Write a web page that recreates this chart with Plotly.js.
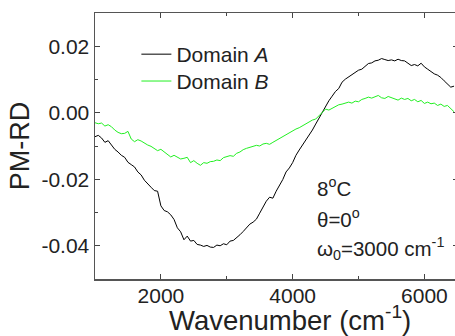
<!DOCTYPE html>
<html>
<head>
<meta charset="utf-8">
<script src="https://cdn.plot.ly/plotly-3.0.1.min.js"></script>
<style>html,body{margin:0;padding:0;background:#fff;overflow:hidden;}#chart{width:458px;height:336px;}</style>
</head>
<body>
<div id="chart"></div>
<script>
const wavenumber = [1000,1050,1100,1150,1200,1250,1300,1350,1400,1450,1500,1550,1600,1650,1700,1750,1800,1850,1900,1950,
2000,2050,2100,2150,2200,2250,2300,2350,2400,2450,2500,2550,2600,2650,2700,2750,2800,2850,2900,2950,
3000,3050,3100,3150,3200,3250,3300,3350,3400,3450,3500,3550,3600,3650,3700,3750,3800,3850,3900,3950,
4000,4050,4100,4150,4200,4250,4300,4350,4400,4450,4500,4550,4600,4650,4700,4750,4800,4850,4900,4950,
5000,5050,5100,5150,5200,5250,5300,5350,5400,5450,5500,5550,5600,5650,5700,5750,5800,5850,5900,5950,
6000,6050,6100,6150,6200,6250,6300,6350,6400,6450];

const domainA = [-0.0072,-0.0068,-0.0076,-0.0089,-0.0084,-0.0097,-0.0110,-0.0118,-0.0128,-0.0134,
-0.0149,-0.0156,-0.0163,-0.0178,-0.0187,-0.0203,-0.0212,-0.0224,-0.0234,-0.0236,
-0.0280,-0.0294,-0.0298,-0.0307,-0.0321,-0.0346,-0.0358,-0.0382,-0.0371,-0.0386,
-0.0384,-0.0396,-0.0398,-0.0402,-0.0399,-0.0404,-0.0405,-0.0398,-0.0400,-0.0394,
-0.0397,-0.0386,-0.0384,-0.0376,-0.0367,-0.0357,-0.0347,-0.0335,-0.0329,-0.0320,
-0.0302,-0.0284,-0.0266,-0.0254,-0.0257,-0.0236,-0.0218,-0.0201,-0.0178,-0.0166,
-0.0150,-0.0128,-0.0112,-0.0097,-0.0084,-0.0068,-0.0052,-0.0034,-0.0016,0.0004,
0.0022,0.0036,0.0050,0.0064,0.0073,0.0092,0.0101,0.0108,0.0113,0.0121,
0.0128,0.0131,0.0139,0.0148,0.0150,0.0156,0.0158,0.0163,0.0160,0.0157,
0.0159,0.0156,0.0161,0.0157,0.0156,0.0148,0.0142,0.0145,0.0141,0.0149,
0.0138,0.0131,0.0124,0.0117,0.0113,0.0106,0.0096,0.0085,0.0077,0.0080];

const domainB = [-0.0030,-0.0033,-0.0031,-0.0040,-0.0036,-0.0042,-0.0052,-0.0059,-0.0063,-0.0062,
-0.0056,-0.0079,-0.0087,-0.0081,-0.0085,-0.0092,-0.0097,-0.0101,-0.0107,-0.0114,
-0.0110,-0.0117,-0.0126,-0.0133,-0.0128,-0.0133,-0.0139,-0.0137,-0.0134,-0.0150,
-0.0144,-0.0152,-0.0158,-0.0150,-0.0152,-0.0147,-0.0146,-0.0142,-0.0144,-0.0135,
-0.0132,-0.0129,-0.0131,-0.0122,-0.0118,-0.0111,-0.0107,-0.0104,-0.0101,-0.0098,
-0.0100,-0.0094,-0.0092,-0.0095,-0.0089,-0.0083,-0.0079,-0.0073,-0.0067,-0.0060,
-0.0055,-0.0049,-0.0045,-0.0039,-0.0033,-0.0026,-0.0022,-0.0019,-0.0010,0.0001,
0.0011,0.0008,0.0014,0.0020,0.0024,0.0026,0.0030,0.0032,0.0029,0.0035,
0.0033,0.0040,0.0043,0.0047,0.0044,0.0048,0.0052,0.0045,0.0043,0.0049,
0.0046,0.0042,0.0038,0.0044,0.0040,0.0043,0.0036,0.0040,0.0033,0.0037,
0.0028,0.0032,0.0027,0.0029,0.0022,0.0026,0.0019,0.0022,0.0013,0.0003];

const seriesNames = ["Domain <i>A</i>", "Domain <i>B</i>"];
const xTickVals = [2000, 4000, 6000];
const xTickText = ["2000", "4000", "6000"];
const xMinorVals = [3000, 5000];
const yTickVals = [-0.04, -0.02, 0, 0.02];
const yTickText = ["-0.04", "-0.02", "0.00", "0.02"];
const yMinorVals = [-0.03, -0.01, 0.01];
const xTitle = "Wavenumber (cm<sup>-1</sup>)";
const yTitle = "PM-RD";
const notes = ["8<sup>o</sup>C", "θ=0<sup>o</sup>", "ω<sub>0</sub>=3000 cm<sup>-1</sup>"];

const FONT = "Liberation Sans, Arial, Helvetica, sans-serif";
const TXT = "#222";

const traces = [
  {x: wavenumber, y: domainA, name: seriesNames[0], type: "scatter", mode: "lines",
   legend: "legend", line: {color: "#000000", width: 1}},
  {x: wavenumber, y: domainB, name: seriesNames[1], type: "scatter", mode: "lines",
   legend: "legend2", line: {color: "#22f022", width: 1}}
];

const axisCommon = {
  showline: true, linecolor: "#555", linewidth: 1.5, mirror: "ticks",
  ticks: "inside", ticklen: 5, tickwidth: 1, tickcolor: "#444",
  showgrid: false, zeroline: false,
  tickfont: {family: FONT, size: 21, color: TXT}
};

const legendCommon = {xanchor: "left", yanchor: "top", bgcolor: "rgba(0,0,0,0)", borderwidth: 0,
  font: {family: FONT, size: 21, color: TXT}};

const layout = {
  width: 458, height: 336,
  margin: {l: 95, r: 0, t: 13, b: 57},
  paper_bgcolor: "#fff", plot_bgcolor: "#fff",
  font: {family: FONT, color: TXT},
  showlegend: true,
  legend: Object.assign({}, legendCommon, {x: 0.114, y: 0.921}),
  legend2: Object.assign({}, legendCommon, {x: 0.114, y: 0.820}),
  xaxis: Object.assign({}, axisCommon, {
    range: [1000, 6510], tickmode: "array", tickvals: xTickVals, ticktext: xTickText,
    ticklabelstandoff: -3,
    minor: {tickmode: "array", tickvals: xMinorVals, ticks: "inside", ticklen: 3, tickcolor: "#444"}
  }),
  yaxis: Object.assign({}, axisCommon, {
    range: [-0.05, 0.03], tickmode: "array", tickvals: yTickVals, ticktext: yTickText,
    minor: {tickmode: "array", tickvals: yMinorVals, ticks: "inside", ticklen: 3, tickcolor: "#444"},
    title: {text: yTitle, font: {family: FONT, size: 27, color: TXT}, standoff: 4}
  }),
  annotations: [
    {text: xTitle, xref: "paper", yref: "paper", x: 0.537, y: -0.148, xanchor: "center", yanchor: "middle", showarrow: false, font: {family: FONT, size: 27.5, color: TXT}},
    {text: notes[0], xref: "paper", yref: "paper", x: 0.607, y: 0.346, xanchor: "left", yanchor: "middle", showarrow: false, font: {family: FONT, size: 20.5, color: TXT}},
    {text: notes[1], xref: "paper", yref: "paper", x: 0.607, y: 0.229, xanchor: "left", yanchor: "middle", showarrow: false, font: {family: FONT, size: 20.5, color: TXT}},
    {text: notes[2], xref: "paper", yref: "paper", x: 0.607, y: 0.1165, xanchor: "left", yanchor: "middle", showarrow: false, font: {family: FONT, size: 20.5, color: TXT}}
  ]
};

Plotly.newPlot("chart", traces, layout, {displayModeBar: false, staticPlot: true});
</script>
</body>
</html>
